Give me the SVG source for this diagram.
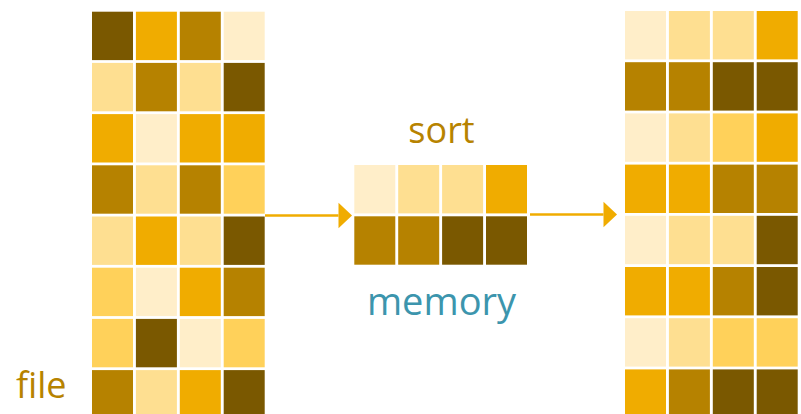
<svg xmlns="http://www.w3.org/2000/svg" width="801" height="414" viewBox="0 0 801 414">
  <style>
    .d { fill: #7A5800; }
    .o { fill: #B68200; }
    .a { fill: #F0AC00; }
    .c { fill: #FFEEC9; }
    .p { fill: #FEDF91; }
    .y { fill: #FFD15A; }
    .label { font-family: "Open Sans", "Liberation Sans", sans-serif; text-anchor: middle; }
    .gold { fill: #B78300; }
    .teal { fill: #3C95AD; }
    .link { stroke: #F0AC00; stroke-width: 2.5; fill: none; }
  </style>
  <defs>
    <marker id="head" markerUnits="userSpaceOnUse" markerWidth="14" markerHeight="26" refX="0" refY="12.8" orient="auto" overflow="visible">
      <path d="M0,0 L13.5,12.8 L0,25.6 Z" fill="#F0AC00"/>
    </marker>
    <!-- one cell: 41 x 48.4, pitch 43.9 x 51.2 -->
    <rect id="cell" width="41" height="48.4"/>
  </defs>
  <rect width="801" height="414" fill="#FFFFFF"/>

  <!-- input file: 8 rows x 4 blocks -->
  <g id="file" transform="translate(92,11.7)">
    <use href="#cell" class="d" x="0" y="0"/><use href="#cell" class="a" x="43.9" y="0"/><use href="#cell" class="o" x="87.8" y="0"/><use href="#cell" class="c" x="131.7" y="0"/>
    <use href="#cell" class="p" x="0" y="51.2"/><use href="#cell" class="o" x="43.9" y="51.2"/><use href="#cell" class="p" x="87.8" y="51.2"/><use href="#cell" class="d" x="131.7" y="51.2"/>
    <use href="#cell" class="a" x="0" y="102.4"/><use href="#cell" class="c" x="43.9" y="102.4"/><use href="#cell" class="a" x="87.8" y="102.4"/><use href="#cell" class="a" x="131.7" y="102.4"/>
    <use href="#cell" class="o" x="0" y="153.6"/><use href="#cell" class="p" x="43.9" y="153.6"/><use href="#cell" class="o" x="87.8" y="153.6"/><use href="#cell" class="y" x="131.7" y="153.6"/>
    <use href="#cell" class="p" x="0" y="204.8"/><use href="#cell" class="a" x="43.9" y="204.8"/><use href="#cell" class="p" x="87.8" y="204.8"/><use href="#cell" class="d" x="131.7" y="204.8"/>
    <use href="#cell" class="y" x="0" y="256"/><use href="#cell" class="c" x="43.9" y="256"/><use href="#cell" class="a" x="87.8" y="256"/><use href="#cell" class="o" x="131.7" y="256"/>
    <use href="#cell" class="y" x="0" y="307.2"/><use href="#cell" class="d" x="43.9" y="307.2"/><use href="#cell" class="c" x="87.8" y="307.2"/><use href="#cell" class="y" x="131.7" y="307.2"/>
    <use href="#cell" class="o" x="0" y="358.4"/><use href="#cell" class="p" x="43.9" y="358.4"/><use href="#cell" class="a" x="87.8" y="358.4"/><use href="#cell" class="d" x="131.7" y="358.4"/>
  </g>

  <!-- in-memory buffer: 2 rows x 4 blocks -->
  <g id="memory" transform="translate(354.3,165)">
    <use href="#cell" class="c" x="0" y="0"/><use href="#cell" class="p" x="43.9" y="0"/><use href="#cell" class="p" x="87.8" y="0"/><use href="#cell" class="a" x="131.7" y="0"/>
    <use href="#cell" class="o" x="0" y="51.3"/><use href="#cell" class="o" x="43.9" y="51.3"/><use href="#cell" class="d" x="87.8" y="51.3"/><use href="#cell" class="d" x="131.7" y="51.3"/>
  </g>

  <!-- sorted output: 8 rows x 4 blocks -->
  <g id="output" transform="translate(625,11)">
    <use href="#cell" class="c" x="0" y="0"/><use href="#cell" class="p" x="43.9" y="0"/><use href="#cell" class="p" x="87.8" y="0"/><use href="#cell" class="a" x="131.7" y="0"/>
    <use href="#cell" class="o" x="0" y="51.2"/><use href="#cell" class="o" x="43.9" y="51.2"/><use href="#cell" class="d" x="87.8" y="51.2"/><use href="#cell" class="d" x="131.7" y="51.2"/>
    <use href="#cell" class="c" x="0" y="102.4"/><use href="#cell" class="p" x="43.9" y="102.4"/><use href="#cell" class="y" x="87.8" y="102.4"/><use href="#cell" class="a" x="131.7" y="102.4"/>
    <use href="#cell" class="a" x="0" y="153.6"/><use href="#cell" class="a" x="43.9" y="153.6"/><use href="#cell" class="o" x="87.8" y="153.6"/><use href="#cell" class="o" x="131.7" y="153.6"/>
    <use href="#cell" class="c" x="0" y="204.8"/><use href="#cell" class="p" x="43.9" y="204.8"/><use href="#cell" class="p" x="87.8" y="204.8"/><use href="#cell" class="d" x="131.7" y="204.8"/>
    <use href="#cell" class="a" x="0" y="256"/><use href="#cell" class="a" x="43.9" y="256"/><use href="#cell" class="o" x="87.8" y="256"/><use href="#cell" class="d" x="131.7" y="256"/>
    <use href="#cell" class="c" x="0" y="307.2"/><use href="#cell" class="p" x="43.9" y="307.2"/><use href="#cell" class="y" x="87.8" y="307.2"/><use href="#cell" class="y" x="131.7" y="307.2"/>
    <use href="#cell" class="a" x="0" y="358.4"/><use href="#cell" class="o" x="43.9" y="358.4"/><use href="#cell" class="d" x="87.8" y="358.4"/><use href="#cell" class="d" x="131.7" y="358.4"/>
  </g>

  <!-- connectors -->
  <g id="connectors">
    <line class="link" x1="265" y1="215.5" x2="338.5" y2="215.5" marker-end="url(#head)"/>
    <line class="link" x1="530" y1="214.5" x2="603.5" y2="214.5" marker-end="url(#head)"/>
  </g>

  <!-- labels -->
  <g id="labels">
    <text class="label gold" x="441.5" y="143.3" font-size="36">sort</text>
    <text class="label teal" x="441.5" y="315" font-size="38">memory</text>
    <text class="label gold" x="41.2" y="397.7" font-size="36">file</text>
  </g>
</svg>
